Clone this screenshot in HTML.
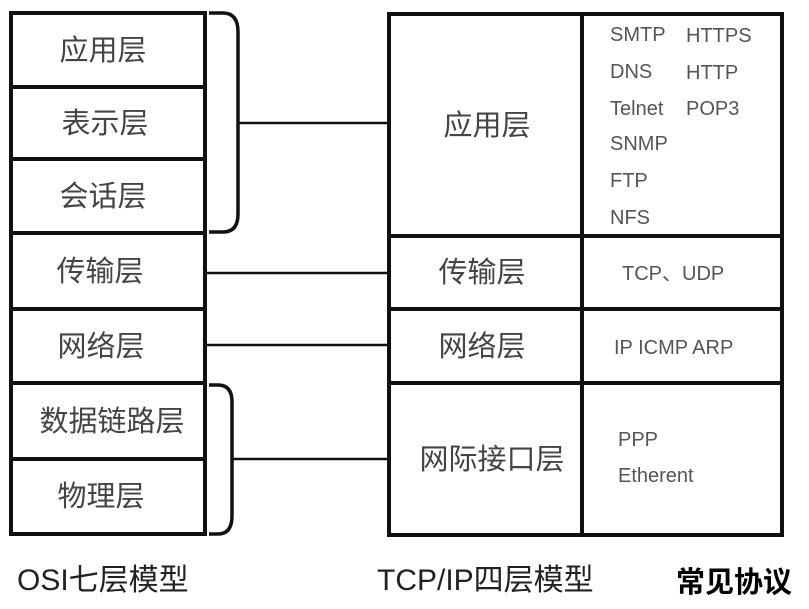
<!DOCTYPE html>
<html><head><meta charset="utf-8"><style>
body{margin:0;background:#fff;width:809px;height:604px;overflow:hidden}
svg text{font-family:"Liberation Sans","Noto Sans CJK SC",sans-serif}
</style></head><body>
<svg width="809" height="604" viewBox="0 0 809 604">
<g fill="none" stroke="#111" stroke-width="4">
<rect x="11" y="13" width="194" height="521"/>
<line x1="11" y1="87" x2="205" y2="87"/>
<line x1="11" y1="159" x2="205" y2="159"/>
<line x1="11" y1="233" x2="205" y2="233"/>
<line x1="11" y1="309" x2="205" y2="309"/>
<line x1="11" y1="383" x2="205" y2="383"/>
<line x1="11" y1="459" x2="205" y2="459"/>
<path d="M209 13 H223 Q238 13 238 32 V214 Q238 232 223 232 H209" stroke-width="3.5"/>
<path d="M209 385 H218 Q232 385 232 402 V516 Q232 534 218 534 H209" stroke-width="3.5"/>
<rect x="389" y="14" width="393" height="521"/>
<line x1="582" y1="14" x2="582" y2="535"/>
<line x1="389" y1="236" x2="782" y2="236"/>
<line x1="389" y1="309" x2="782" y2="309"/>
<line x1="389" y1="383" x2="782" y2="383"/>
</g>
<g stroke="#111" stroke-width="2.5">
<line x1="238" y1="123" x2="389" y2="123"/>
<line x1="207" y1="273" x2="389" y2="273"/>
<line x1="207" y1="345" x2="389" y2="345"/>
<line x1="232" y1="459" x2="389" y2="459"/>
</g>
<g fill="#444" font-size="29" text-anchor="middle">
<text x="103" y="60">应用层</text>
<text x="105" y="133">表示层</text>
<text x="103" y="206">会话层</text>
<text x="100" y="281">传输层</text>
<text x="101" y="356">网络层</text>
<text x="112" y="431">数据链路层</text>
<text x="101" y="506">物理层</text>
<text x="487" y="135">应用层</text>
<text x="482" y="282">传输层</text>
<text x="482" y="356">网络层</text>
<text x="492" y="469">网际接口层</text>
</g>
<g fill="#555" font-size="20">
<text x="610" y="41">SMTP</text><text x="686" y="42">HTTPS</text>
<text x="610" y="78">DNS</text><text x="686" y="79">HTTP</text>
<text x="610" y="115">Telnet</text><text x="686" y="115">POP3</text>
<text x="610" y="150">SNMP</text>
<text x="610" y="187">FTP</text>
<text x="610" y="224">NFS</text>
<text x="622" y="280">TCP、UDP</text>
<text x="614" y="354">IP ICMP ARP</text>
<text x="618" y="446">PPP</text>
<text x="618" y="482">Etherent</text>
</g>
<g font-size="30" fill="#222">
<text x="17" y="590">OSI七层模型</text>
<text x="377" y="590">TCP/IP四层模型</text>
<text x="676" y="592" font-weight="bold" fill="#000" font-size="29">常见协议</text>
</g>
</svg>
</body></html>
